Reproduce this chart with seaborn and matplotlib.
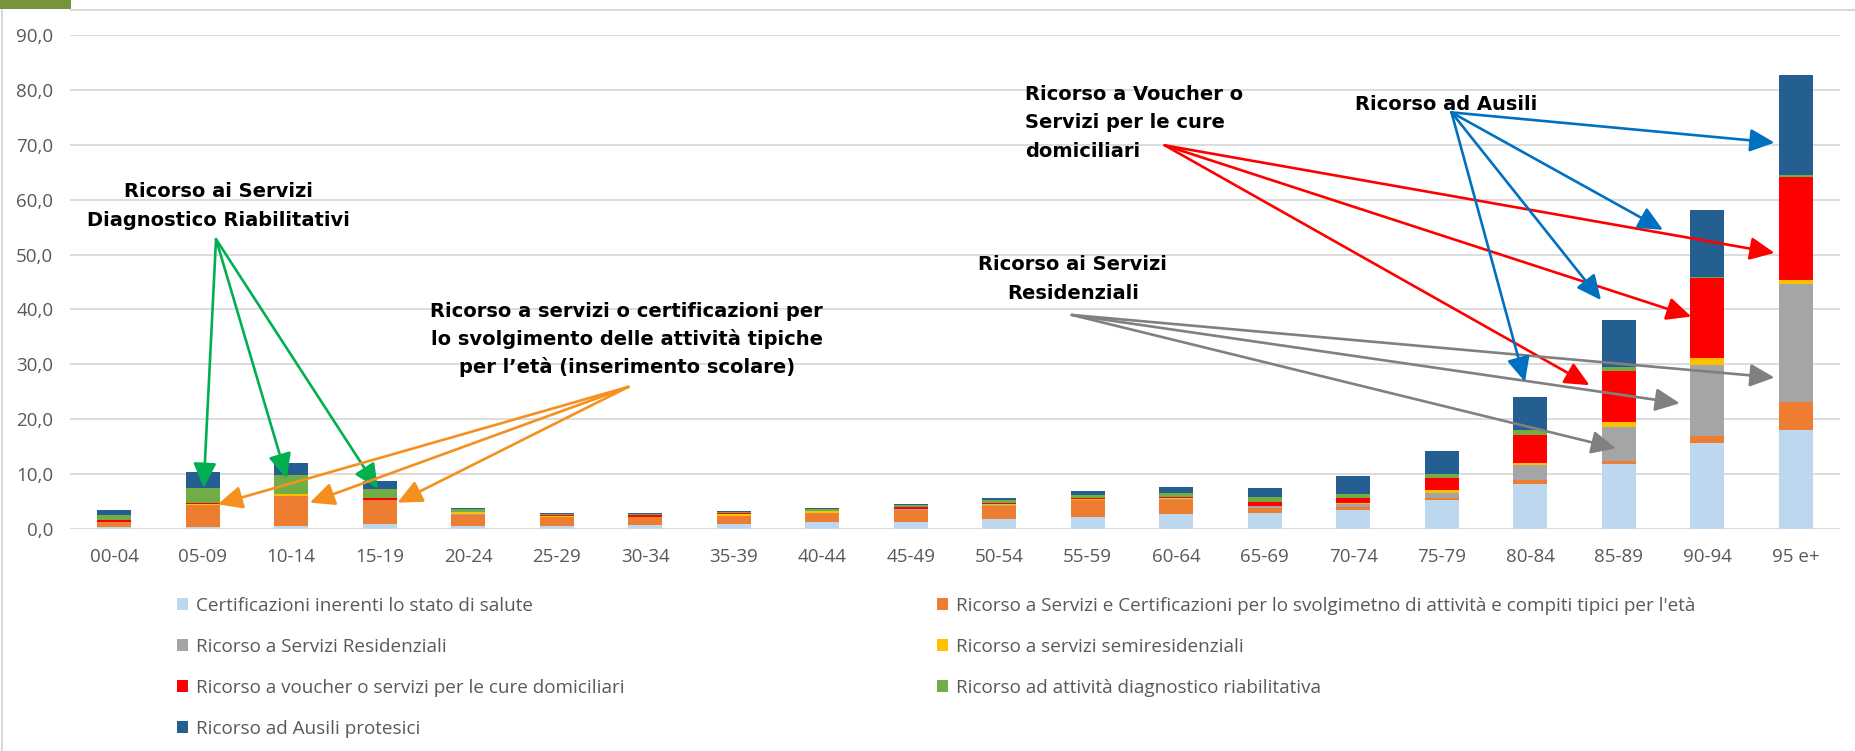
import numpy as np
import matplotlib
matplotlib.use("Agg")
import matplotlib.pyplot as plt
from matplotlib.patches import Patch, Rectangle
from matplotlib.lines import Line2D
import seaborn as sns

# fasce d'eta'
ages = ['00-04', '05-09', '10-14', '15-19', '20-24', '25-29', '30-34', '35-39', '40-44', '45-49',
        '50-54', '55-59', '60-64', '65-69', '70-74', '75-79', '80-84', '85-89', '90-94', '95 e+']

# valori per serie (dal basso verso l'alto)
certificazioni = [0.3, 0.3, 0.5, 0.9, 0.5, 0.5, 0.8, 0.9, 1.2, 1.3, 1.8, 2.1, 2.7, 2.9, 3.5, 5.2, 8.2, 11.8, 15.7, 18.1]
compiti_tipici = [0.9, 4.1, 5.5, 4.3, 2.1, 1.7, 1.3, 1.5, 1.7, 2.2, 2.4, 3.1, 2.6, 0.9, 0.5, 0.4, 0.8, 0.5, 1.2, 5.1]
residenziali = [0.0, 0.0, 0.0, 0.0, 0.05, 0.0, 0.0, 0.05, 0.05, 0.1, 0.1, 0.1, 0.1, 0.3, 0.5, 1.0, 2.6, 6.3, 13.0, 21.5]
semiresidenziali = [0.1, 0.1, 0.4, 0.1, 0.4, 0.1, 0.1, 0.3, 0.3, 0.1, 0.2, 0.2, 0.3, 0.1, 0.2, 0.5, 0.5, 0.9, 1.3, 0.7]
domiciliari = [0.3, 0.2, 0.05, 0.3, 0.1, 0.3, 0.3, 0.1, 0.1, 0.3, 0.3, 0.2, 0.2, 0.8, 1.0, 2.2, 5.0, 9.2, 14.5, 18.8]
diagnostico = [1.0, 2.8, 3.4, 1.6, 0.5, 0.2, 0.2, 0.3, 0.3, 0.4, 0.4, 0.5, 0.7, 0.8, 0.7, 0.8, 1.0, 0.9, 0.3, 0.3]
ausili = [0.9, 2.8, 2.1, 1.5, 0.2, 0.2, 0.3, 0.15, 0.15, 0.2, 0.4, 0.8, 1.0, 1.7, 3.2, 4.1, 6.0, 8.4, 12.2, 18.2]

labels = ['Certificazioni inerenti lo stato di salute',
          "Ricorso a Servizi e Certificazioni per lo svolgimetno di attività e compiti tipici per l'età",
          'Ricorso a Servizi Residenziali',
          'Ricorso a servizi semiresidenziali',
          'Ricorso a voucher o servizi per le cure domiciliari',
          'Ricorso ad attività diagnostico riabilitativa',
          'Ricorso ad Ausili protesici']
colors = ['#BDD7EE', '#ED7D31', '#A5A5A5', '#FFC000', '#FF0000', '#70AD47', '#255E91']

sns.set_theme(style="white")
plt.rcParams['font.family'] = ['Open Sans', 'DejaVu Sans']

W, H = 1855, 751
fig = plt.figure(figsize=(W / 100, H / 100), dpi=100)
ax = fig.add_axes([70 / W, 1 - 529 / H, 1770 / W, 494 / H])

# barre impilate: si disegnano i cumulati dal piu' alto al piu' basso
layers = [certificazioni, compiti_tipici, residenziali, semiresidenziali, domiciliari, diagnostico, ausili]
tops = np.cumsum(np.array(layers), axis=0)
for k in reversed(range(len(layers))):
    sns.barplot(x=ages, y=tops[k], order=ages, color=colors[k], saturation=1,
                width=0.385, errorbar=None, linewidth=0, ax=ax)

ax.set(xlabel='', ylabel='')
ax.set_xlim(-0.5, len(ages) - 0.5)
ax.set_ylim(0, 90)
yt = np.arange(0, 91, 10)
ax.set_yticks(yt)
ax.set_yticklabels([f"{v:.1f}".replace('.', ',') for v in yt])
ax.yaxis.grid(True, color='#D9D9D9', lw=1.3)
ax.xaxis.grid(False)
ax.set_axisbelow(True)
for s in ax.spines.values():
    s.set_visible(False)
ax.tick_params(axis='both', length=0, labelsize=13.5, labelcolor='#595959')
ax.tick_params(axis='x', pad=14)
ax.tick_params(axis='y', pad=12)

# annotazioni con frecce
def arrows(origin, tips, color):
    for tip in tips:
        ax.annotate('', xy=tip, xytext=origin,
                    arrowprops=dict(arrowstyle='-|>,head_length=0.75,head_width=0.35',
                                    color=color, lw=1.9, mutation_scale=20,
                                    shrinkA=0, shrinkB=0))

note = dict(fontsize=14, fontweight='bold', family='DejaVu Sans', color='black',
            va='center', linespacing=1.65)

ax.text(1.18, 58.9, "Ricorso ai Servizi\nDiagnostico Riabilitativi", ha='center', **note)
arrows((1.15, 52.8), [(1.01, 7.5), (1.95, 9.2), (2.98, 7.3)], '#00B050')

ax.text(5.79, 34.6, "Ricorso a servizi o certificazioni per\nlo svolgimento delle attività tipiche\nper l\u2019età (inserimento scolare)",
        ha='center', **{**note, 'linespacing': 1.5})
arrows((5.81, 25.9), [(1.17, 4.5), (2.21, 4.8), (3.2, 4.8)], '#F4901E')

ax.text(10.29, 74.0, "Ricorso a Voucher o\nServizi per le cure\ndomiciliari", ha='left', **note)
arrows((11.87, 69.9), [(16.67, 26.2), (17.82, 38.7), (18.76, 50.3)], '#FF0000')

ax.text(10.83, 45.5, "Ricorso ai Servizi\nResidenziali", ha='center', **note)
arrows((10.82, 39.0), [(16.97, 14.7), (17.69, 22.9), (18.76, 27.6)], '#808080')

ax.text(14.02, 77.4, "Ricorso ad Ausili", ha='left', **note)
arrows((15.11, 75.9), [(15.94, 26.8), (16.80, 41.7), (17.50, 54.5), (18.76, 70.4)], '#0070C0')

# legenda in due colonne
handles = [Patch(facecolor=c, edgecolor='none', label=l) for c, l in zip(colors, labels)]
leg_kw = dict(loc='upper left', frameon=False, borderpad=0, borderaxespad=0,
              handlelength=0.6, handleheight=0.6, handletextpad=0.4, labelspacing=1.21,
              prop=dict(family='Open Sans', size=13.6), labelcolor='#595959',
              bbox_transform=fig.transFigure)
fig.legend(handles=handles[0::2], bbox_to_anchor=(177 / W, 1 - 597 / H), **leg_kw)
fig.legend(handles=handles[1::2], bbox_to_anchor=(937 / W, 1 - 597 / H), **leg_kw)

# cornice della slide
fig.patches.append(Rectangle((0, 1 - 9 / H), 71 / W, 9 / H, transform=fig.transFigure,
                             facecolor='#77933C', edgecolor='none', zorder=5))
fig.lines.append(Line2D([71 / W, 1], [1 - 10 / H, 1 - 10 / H], transform=fig.transFigure,
                        color='#D9D9D9', lw=1.5))
fig.lines.append(Line2D([1.5 / W, 1.5 / W], [0, 1 - 10 / H], transform=fig.transFigure,
                        color='#D9D9D9', lw=1.5))

fig.savefig('out.png', dpi=100, facecolor='white')
